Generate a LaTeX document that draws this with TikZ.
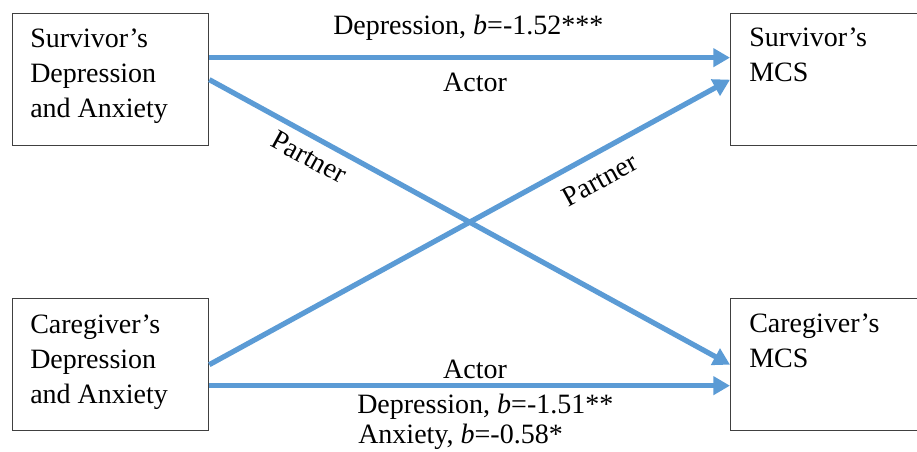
\documentclass[tikz,border=0pt]{standalone}
\usepackage{fontspec}
\setmainfont{Liberation Serif}
\usetikzlibrary{arrows.meta}
\definecolor{arrowblue}{HTML}{5B9BD5}
\definecolor{boxgray}{HTML}{404040}
\begin{document}
\begin{tikzpicture}[x=0.75pt,y=-0.75pt,
  txt/.style={font=\fontsize{21}{26.25}\selectfont, inner sep=0pt, align=left},
  boxnode/.style={draw=boxgray, line width=1pt, rectangle, inner sep=0pt, minimum height=99pt},
  leftbox/.style={boxnode, minimum width=147pt, anchor=north west},
  rightbox/.style={boxnode, minimum width=157.5pt, anchor=north west},
  link/.style={draw=arrowblue, line width=3.9pt, -{Triangle[length=12.5pt,width=13.5pt]}},
  lbl/.style={font=\fontsize{21}{26.25}\selectfont, inner sep=0pt}]
\useasboundingbox (0,0) rectangle (917,452);
% boxes
\node[leftbox] (ltop) at (12,13) {};
\node[leftbox] (lbot) at (12,298) {};
\node[rightbox] (rtop) at (730,13) {};
\node[rightbox] (rbot) at (730,298) {};
% box texts (base = last line)
\node[txt, anchor=base west] (ltoptext) at (30,118) {Survivor’s\\Depression\\and Anxiety};
\node[txt, anchor=base west] (lbottext) at (30,403) {Caregiver’s\\Depression\\and Anxiety};
\node[txt, anchor=base west] (rtoptext) at (749,82) {Survivor’s\\MCS};
\node[txt, anchor=base west] (rbottext) at (749,367) {Caregiver’s\\MCS};
% connectors
\draw[link] ([yshift=16.5pt]ltop.east) -- ([yshift=16.5pt]rtop.west);
\draw[link] ([yshift=-15.75pt]lbot.east) -- ([yshift=-15.75pt]rbot.west);
\draw[link] (ltop.east) -- node[lbl, pos=0.21, sloped, below=15pt, anchor=center] (p1) {Partner} (rbot.west);
\draw[link] (lbot.east) -- node[lbl, pos=0.727, sloped, below=19pt, anchor=center] (p2) {Partner} (rtop.west);
% labels
\node[lbl, anchor=base west] (dep1) at (333,35) {Depression, \textit{b}=-1.52***};
\node[lbl, anchor=base] (act1) at (475,92) {Actor};
\node[lbl, anchor=base] (act2) at (475,378) {Actor};
\node[lbl, anchor=base west] (dep2) at (357,413) {Depression, \textit{b}=-1.51**};
\node[lbl, anchor=base west] (anx2) at (358,443) {Anxiety, \textit{b}=-0.58*};
\end{tikzpicture}
\end{document}
